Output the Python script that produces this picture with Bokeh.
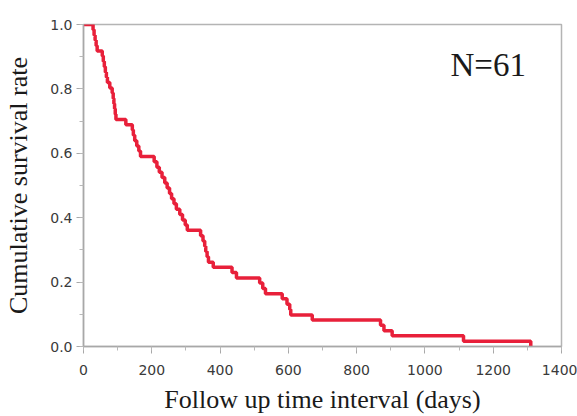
from bokeh.plotting import figure
from bokeh.models import Range1d, SingleIntervalTicker, PrintfTickFormatter, Label
from bokeh.embed import file_html
from bokeh.resources import INLINE

# Kaplan-Meier steps (day of each step, survival after it)
days = [0, 28, 31, 34, 37, 40, 55, 58, 61, 64, 67, 70, 77, 84, 87, 89, 91, 93, 95,
        124, 143, 146, 150, 156, 162, 167, 207, 215, 222, 230, 238, 245, 252, 258,
        265, 272, 282, 290, 298, 304, 343, 350, 355, 358, 362, 366, 380, 435, 448,
        516, 525, 533, 582, 596, 604, 607, 670, 870, 880, 904, 1113, 1310]
survival = [1.000, 0.984, 0.967, 0.951, 0.934, 0.918, 0.902, 0.885, 0.869, 0.852,
            0.836, 0.820, 0.803, 0.787, 0.770, 0.754, 0.738, 0.721, 0.705, 0.689,
            0.672, 0.656, 0.639, 0.623, 0.607, 0.590, 0.574, 0.557, 0.541, 0.525,
            0.508, 0.492, 0.475, 0.459, 0.443, 0.426, 0.410, 0.393, 0.377, 0.361,
            0.344, 0.328, 0.311, 0.295, 0.279, 0.262, 0.246, 0.230, 0.213, 0.197,
            0.180, 0.164, 0.148, 0.131, 0.115, 0.098, 0.082, 0.066, 0.049, 0.033,
            0.016, 0.000]
annotation = "N=61"
x_title = "Follow up time interval (days)"
y_title = "Cumulative survival rate"

p = figure(width=577, height=416, output_backend="svg", toolbar_location=None,
           x_range=Range1d(0, 1400), y_range=Range1d(0, 1.0),
           min_border_left=83, min_border_right=16, min_border_top=24,
           min_border_bottom=69)
p.xgrid.visible = False
p.ygrid.visible = False
p.outline_line_color = "#b4b4b4"
p.outline_line_width = 1.5
p.background_fill_color = "white"
p.border_fill_color = "white"

p.step(days, survival, mode="after", line_color="#e8203a", line_width=3.5)

p.xaxis.ticker = SingleIntervalTicker(interval=200, num_minor_ticks=2)
p.yaxis.ticker = SingleIntervalTicker(interval=0.2, num_minor_ticks=2)
p.yaxis.formatter = PrintfTickFormatter(format="%.1f")

for ax in (p.xaxis[0], p.yaxis[0]):
    ax.axis_line_color = "#a8a8a8"
    ax.axis_line_width = 1.5
    ax.major_tick_line_color = "#a8a8a8"
    ax.minor_tick_line_color = "#b8b8b8"
    ax.major_tick_out = 7
    ax.major_tick_in = 0
    ax.minor_tick_out = 4
    ax.minor_tick_in = 0
    ax.major_label_text_font = "DejaVu Sans"
    ax.major_label_text_font_size = "14px"
    ax.major_label_text_color = "#3a3a3a"
    ax.axis_label_text_font = "Liberation Serif"
    ax.axis_label_text_font_size = "26px"
    ax.axis_label_text_font_style = "normal"
    ax.axis_label_text_color = "#1a1a1a"

p.xaxis.axis_label = x_title
p.yaxis.axis_label = y_title
p.xaxis.major_label_standoff = 11
p.yaxis.major_label_standoff = 4
p.xaxis.axis_label_standoff = 7
p.yaxis.axis_label_standoff = 14

p.add_layout(Label(x=1075, y=0.873, text=annotation, text_font="Liberation Serif",
                   text_font_size="33px", text_color="#1a1a1a",
                   text_baseline="middle", text_align="left"))

open("out.html", "w").write(file_html(p, INLINE))
